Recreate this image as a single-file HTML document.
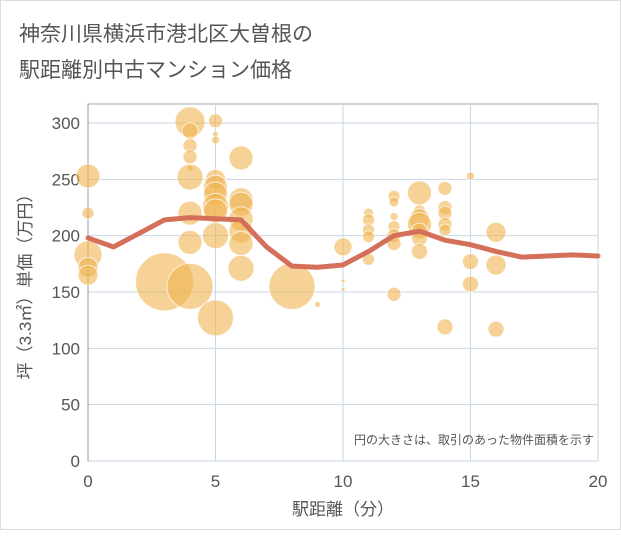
<!DOCTYPE html>
<html><head><meta charset="utf-8"><style>
body{margin:0;background:#fff;font-family:"Liberation Sans","Noto Sans CJK JP",sans-serif}
#wrap{position:relative;width:621px;height:530px;background:#fff;box-sizing:border-box;border:1px solid #ddd}
</style></head><body>
<div id="wrap">
<svg id="chart" width="621" height="530"></svg>
</div>
<script>
const xTicks=[0,5,10,15,20];
const yTicks=[0,50,100,150,200,250,300];
const bubbleDist=[0,0,0,0,0,3,4,4,4,4,4,4,4,4,4,5,5,5,5,5,5,5,5,5,5,6,6,6,6,6,6,6,8,9,10,10,10,11,11,11,11,11,12,12,12,12,12,12,12,13,13,13,13,13,13,13,14,14,14,14,14,14,15,15,15,16,16,16];
const bubblePrice=[253,220,183,172,165,159,155,301,293,280,270,260,252,220,194,302,290,285,250,243,237,226,222,200,127,269,232,228,215,204,193,171,155,139,190,160,152,220,214,205,199,179,235,230,217,208,200,193,148,238,222,215,210,204,198,186,242,225,220,210,205,119,253,177,157,203,174,117];
const bubbleSize=[12,6,14,10,10,29,23,15,8,7,7,3,13,12,12,7,3,4,10,12,12,13,12,13,18,12,12,12,12,12,12,13,23,3,9,2,2,5,6,6,6,6,6,5,4,6,7,7,7,12,6,10,12,8,8,8,7,7,7,7,6,8,4,8,8,10,10,8];
const lineDist=[0,1,2,3,4,5,6,7,8,9,10,11,12,13,14,15,16,17,18,19,20];
const linePrice=[198,190,202,214,216,215,214,190,173,172,174,186,200,204,196,192,186,181,182,183,182];
const NS="http://www.w3.org/2000/svg";
const svg=document.getElementById('chart');
const X0=87,X1=597,Y0=460,Y1=122;
const sx=d=>X0+(X1-X0)*d/20;
const sy=v=>Y0-(Y0-Y1)*v/300;
function mk(t,a,p){const e=document.createElementNS(NS,t);for(const k in a)e.setAttribute(k,a[k]);(p||svg).appendChild(e);return e;}
function txt(s,a){const e=mk('text',a);e.textContent=s;return e;}
let t=txt('神奈川県横浜市港北区大曽根の',{x:18,y:40,'font-size':21,fill:'#555'});


t=txt('駅距離別中古マンション価格',{x:18,y:76,'font-size':21,fill:'#555'});


let f=mk('rect',{x:X0,y:103,width:X1-X0,height:Y0-103,fill:'none',stroke:'#aaa','stroke-width':1});


yTicks.forEach(v=>{
 const l=mk('line',{x1:X0,x2:X1,y1:sy(v),y2:sy(v),stroke:'#c9d6e3','stroke-width':1});
 
 
 const e=txt(String(v),{x:X0-8,y:sy(v)+6,'font-size':17,fill:'#555','text-anchor':'end'});
 
 
});
xTicks.forEach(d=>{
 const l=mk('line',{x1:sx(d),x2:sx(d),y1:103,y2:Y0,stroke:'#c9d6e3','stroke-width':1});
 
 
 const e=txt(String(d),{x:sx(d),y:Y0+26,'font-size':17,fill:'#555','text-anchor':'middle'});
 
 
});
let ax=mk('line',{x1:X0,x2:X0,y1:103,y2:Y0,stroke:'#999','stroke-width':1});


bubbleDist.forEach((d,i)=>{
 const c=mk('circle',{cx:sx(d),cy:sy(bubblePrice[i]),r:bubbleSize[i],fill:'rgba(240,180,80,0.6)',stroke:'rgba(255,255,255,0.7)','stroke-width':1});
 
 
});
const pts=lineDist.map((d,i)=>sx(d)+','+sy(linePrice[i])).join(' ');
let pl=mk('polyline',{points:pts,fill:'none',stroke:'#d4705a','stroke-width':5,'stroke-linejoin':'round','stroke-linecap':'round'});


t=txt('円の大きさは、取引のあった物件面積を示す',{x:593,y:443,'font-size':12,fill:'#555','text-anchor':'end'});


t=txt('駅距離（分）',{x:(X0+X1)/2,y:514,'font-size':17,fill:'#555','text-anchor':'middle'});


t=txt('坪（3.3㎡）単価（万円）',{x:0,y:0,'font-size':17,fill:'#555','text-anchor':'middle',transform:'translate(30,'+((103+Y0)/2)+') rotate(-90)'});


</script>
</body></html>
